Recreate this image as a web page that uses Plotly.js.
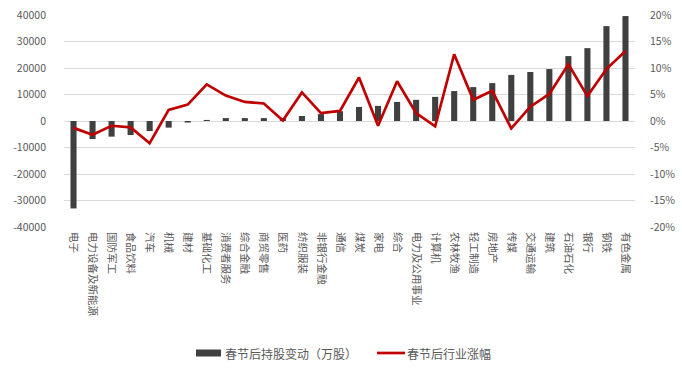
<!DOCTYPE html>
<html>
<head>
<meta charset="utf-8">
<script src="https://cdn.plot.ly/plotly-3.0.1.min.js"></script>
<style>html,body{margin:0;padding:0;background:#fff;}#chart{width:682px;height:375px;}</style>
</head>
<body>
<div id="chart"></div>
<script>
const categories = ["电子","电力设备及新能源","国防军工","食品饮料","汽车","机械","建材","基础化工","消费者服务","综合金融","商贸零售","医药","纺织服装","非银行金融","通信","煤炭","家电","综合","电力及公用事业","计算机","农林牧渔","轻工制造","房地产","传媒","交通运输","建筑","石油石化","银行","钢铁","有色金属"];
const holdingChange = [-33000,-6800,-5900,-5300,-3800,-2500,-600,400,1100,1100,1100,1100,1900,2600,3700,5300,5700,7200,8000,9100,11300,12800,14300,17400,18500,19600,24500,27500,35800,39600];
const industryReturn = [-0.013,-0.026,-0.009,-0.012,-0.042,0.021,0.031,0.069,0.048,0.036,0.033,0.001,0.054,0.015,0.019,0.082,-0.009,0.075,0.015,-0.010,0.126,0.040,0.057,-0.014,0.027,0.051,0.107,0.047,0.098,0.132];
const leftTicks = [-40000,-30000,-20000,-10000,0,10000,20000,30000,40000];
const leftTickText = ["-40000","-30000","-20000","-10000","0","10000","20000","30000","40000"];
const rightTicks = [-0.2,-0.15,-0.1,-0.05,0,0.05,0.1,0.15,0.2];
const rightTickText = ["-20%","-15%","-10%","-5%","0%","5%","10%","15%","20%"];
const seriesNames = ["春节后持股变动（万股）","春节后行业涨幅"];

const font = "Noto Sans CJK SC, Noto Sans, sans-serif";
const barColor = "#404040", lineColor = "#C00000";
const traces = [
  {type:"bar", x:categories, y:holdingChange, name:seriesNames[0], marker:{color:barColor}, yaxis:"y"},
  {type:"scatter", mode:"lines", x:categories, y:industryReturn, name:seriesNames[1], line:{color:lineColor, width:2.7}, yaxis:"y2"}
];
// custom legend (paper coords): plot area spans x 64..635, y 15..227
const px = p => (p - 64) / 571;
const py = p => (227 - p) / 212;
const legY = 353;
const shapes = [
  {type:"rect", xref:"paper", yref:"paper", x0:px(196), x1:px(221), y0:py(legY+3.5), y1:py(legY-3.5), fillcolor:barColor, line:{width:0}},
  {type:"line", xref:"paper", yref:"paper", x0:px(377), x1:px(405), y0:py(legY), y1:py(legY), line:{color:lineColor, width:2.7}}
];
const annotations = [
  {xref:"paper", yref:"paper", x:px(223), y:py(legY), xanchor:"left", yanchor:"middle", text:seriesNames[0], showarrow:false, font:{size:12, color:"#595959"}},
  {xref:"paper", yref:"paper", x:px(405), y:py(legY), xanchor:"left", yanchor:"middle", text:seriesNames[1], showarrow:false, font:{size:12, color:"#595959"}}
];
const layout = {
  width:682, height:375,
  margin:{l:64, r:47, t:15, b:148},
  paper_bgcolor:"#fff", plot_bgcolor:"#fff",
  font:{family:font, size:10, color:"#595959"},
  bargap:0.68,
  showlegend:false,
  shapes:shapes,
  annotations:annotations,
  xaxis:{type:"category", tickangle:90, showgrid:false, zeroline:false, showline:false, ticks:"", tickfont:{size:10.5, color:"#595959"}, ticklabelstandoff:4, automargin:false},
  yaxis:{range:[-40000,40000], tickvals:leftTicks, ticktext:leftTickText, showgrid:true, gridcolor:"#d9d9d9", gridwidth:1, zeroline:false, showline:false, ticks:"", ticklabelstandoff:17, tickfont:{size:10.5, color:"#595959"}, automargin:false},
  yaxis2:{range:[-0.2,0.2], overlaying:"y", side:"right", tickvals:rightTicks, ticktext:rightTickText, showgrid:false, zeroline:false, showline:false, ticks:"", ticklabelstandoff:14, tickfont:{size:10.5, color:"#595959"}, automargin:false}
};
Plotly.newPlot("chart", traces, layout, {displayModeBar:false, staticPlot:true});
</script>
</body>
</html>
